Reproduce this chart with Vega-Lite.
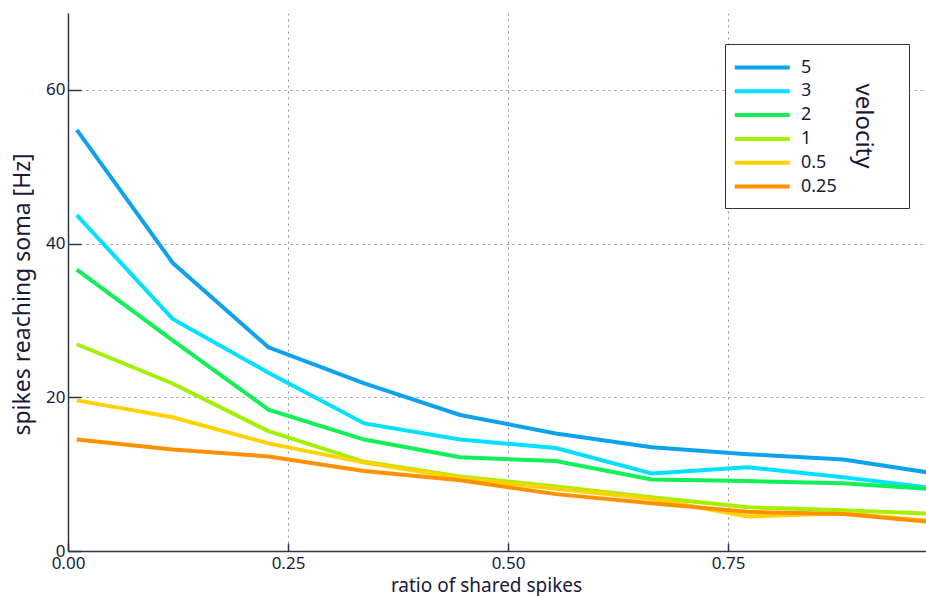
{
  "$schema": "https://vega.github.io/schema/vega-lite/v6.json",
  "width": 858,
  "height": 538,
  "autosize": "none",
  "padding": {"left": 68, "top": 13, "right": 0, "bottom": 45},
  "background": "white",
  "config": {
    "view": {"stroke": null},
    "font": "Noto Sans",
    "axis": {
      "labelFont": "Noto Sans",
      "titleFont": "Noto Sans",
      "labelColor": "#1a1a3a",
      "titleColor": "#1a1a3a",
      "labelFontSize": 17,
      "titleFontSize": 18,
      "titleFontWeight": "normal",
      "domainColor": "#33334d",
      "domainWidth": 1.5,
      "tickColor": "#33334d",
      "tickWidth": 1.5,
      "gridColor": "#8f8fa0",
      "gridDash": [2, 4],
      "gridWidth": 1,
      "labelFlush": false
    }
  },
  "data": {
    "values": [
      {"x": 0.01, "y": 54.8, "v": "5"}, {"x": 0.1189, "y": 37.5, "v": "5"}, {"x": 0.2278, "y": 26.5, "v": "5"}, {"x": 0.3367, "y": 21.8, "v": "5"}, {"x": 0.4456, "y": 17.7, "v": "5"}, {"x": 0.5544, "y": 15.3, "v": "5"}, {"x": 0.6633, "y": 13.5, "v": "5"}, {"x": 0.7722, "y": 12.6, "v": "5"}, {"x": 0.8811, "y": 11.9, "v": "5"}, {"x": 0.99, "y": 10.0, "v": "5"},
      {"x": 0.01, "y": 43.7, "v": "3"}, {"x": 0.1189, "y": 30.2, "v": "3"}, {"x": 0.2278, "y": 23.2, "v": "3"}, {"x": 0.3367, "y": 16.6, "v": "3"}, {"x": 0.4456, "y": 14.5, "v": "3"}, {"x": 0.5544, "y": 13.4, "v": "3"}, {"x": 0.6633, "y": 10.1, "v": "3"}, {"x": 0.7722, "y": 10.9, "v": "3"}, {"x": 0.8811, "y": 9.6, "v": "3"}, {"x": 0.99, "y": 8.1, "v": "3"},
      {"x": 0.01, "y": 36.6, "v": "2"}, {"x": 0.1189, "y": 27.4, "v": "2"}, {"x": 0.2278, "y": 18.4, "v": "2"}, {"x": 0.3367, "y": 14.5, "v": "2"}, {"x": 0.4456, "y": 12.2, "v": "2"}, {"x": 0.5544, "y": 11.7, "v": "2"}, {"x": 0.6633, "y": 9.3, "v": "2"}, {"x": 0.7722, "y": 9.1, "v": "2"}, {"x": 0.8811, "y": 8.8, "v": "2"}, {"x": 0.99, "y": 8.0, "v": "2"},
      {"x": 0.01, "y": 26.9, "v": "1"}, {"x": 0.1189, "y": 21.8, "v": "1"}, {"x": 0.2278, "y": 15.6, "v": "1"}, {"x": 0.3367, "y": 11.6, "v": "1"}, {"x": 0.4456, "y": 9.7, "v": "1"}, {"x": 0.5544, "y": 8.4, "v": "1"}, {"x": 0.6633, "y": 7.0, "v": "1"}, {"x": 0.7722, "y": 5.7, "v": "1"}, {"x": 0.8811, "y": 5.3, "v": "1"}, {"x": 0.99, "y": 4.8, "v": "1"},
      {"x": 0.01, "y": 19.6, "v": "0.5"}, {"x": 0.1189, "y": 17.4, "v": "0.5"}, {"x": 0.2278, "y": 14.0, "v": "0.5"}, {"x": 0.3367, "y": 11.5, "v": "0.5"}, {"x": 0.4456, "y": 9.5, "v": "0.5"}, {"x": 0.5544, "y": 8.1, "v": "0.5"}, {"x": 0.6633, "y": 6.8, "v": "0.5"}, {"x": 0.7722, "y": 4.5, "v": "0.5"}, {"x": 0.8811, "y": 4.9, "v": "0.5"}, {"x": 0.99, "y": 3.8, "v": "0.5"},
      {"x": 0.01, "y": 14.5, "v": "0.25"}, {"x": 0.1189, "y": 13.2, "v": "0.25"}, {"x": 0.2278, "y": 12.3, "v": "0.25"}, {"x": 0.3367, "y": 10.4, "v": "0.25"}, {"x": 0.4456, "y": 9.2, "v": "0.25"}, {"x": 0.5544, "y": 7.4, "v": "0.25"}, {"x": 0.6633, "y": 6.2, "v": "0.25"}, {"x": 0.7722, "y": 5.1, "v": "0.25"}, {"x": 0.8811, "y": 4.8, "v": "0.25"}, {"x": 0.99, "y": 3.7, "v": "0.25"}
    ]
  },
  "mark": {"type": "line", "strokeWidth": 4, "clip": true},
  "encoding": {
    "x": {
      "field": "x",
      "type": "quantitative",
      "scale": {"domain": [0, 0.975], "nice": false, "zero": false},
      "axis": {
        "title": "ratio of shared spikes",
        "titleFontSize": 19,
        "titleX": 418,
        "values": [0, 0.25, 0.5, 0.75],
        "format": ".2f",
        "tickSize": -8,
        "labelPadding": 12,
        "titlePadding": 5
      }
    },
    "y": {
      "field": "y",
      "type": "quantitative",
      "scale": {"domain": [0, 70], "nice": false},
      "axis": {
        "title": "spikes reaching soma [Hz]",
        "titleFontSize": 23,
        "titleY": 281,
        "values": [0, 20, 40, 60],
        "tickSize": -13,
        "labelPadding": 16,
        "titlePadding": 11
      }
    },
    "color": {
      "field": "v",
      "type": "nominal",
      "sort": ["5", "3", "2", "1", "0.5", "0.25"],
      "scale": {
        "domain": ["5", "3", "2", "1", "0.5", "0.25"],
        "range": ["#0ea2ee", "#00e0ff", "#12f058", "#a4f000", "#ffd200", "#ff9100"]
      },
      "legend": {
        "title": ["", "velocity"],
        "orient": "none",
        "legendX": 657,
        "legendY": 31,
        "strokeColor": "#33334d",
        "fillColor": "white",
        "padding": 12,
        "titleOrient": "right",
        "titleAnchor": "middle",
        "titleFontSize": 24,
        "titleLineHeight": 22,
        "titleFontWeight": "normal",
        "titleColor": "#1a1a3a",
        "titlePadding": 36,
        "labelFontSize": 18,
        "labelColor": "#1a1a3a",
        "labelFont": "Noto Sans",
        "titleFont": "Noto Sans",
        "symbolType": "M-1.5,0H4.5",
        "symbolSize": 336,
        "symbolStrokeWidth": 4,
        "labelOffset": 41,
        "rowPadding": 2.8,
        "encode": {
          "title": {"update": {"angle": {"value": 90}, "baseline": {"value": "bottom"}, "align": {"value": "center"}, "dx": {"value": 11}}}
        }
      }
    }
  }
}
